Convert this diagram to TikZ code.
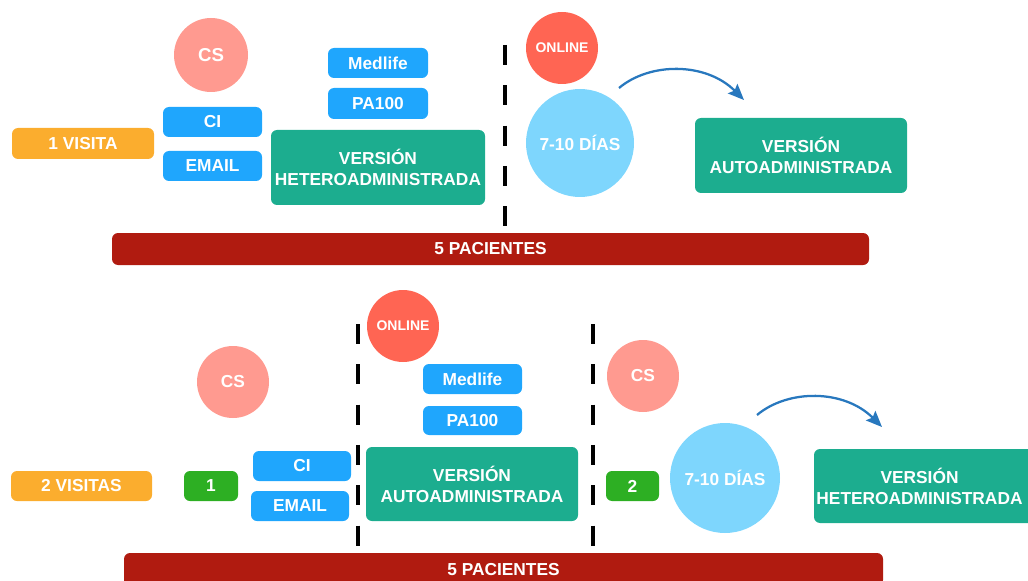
\documentclass[tikz,border=0pt]{standalone}
\usepackage{fontspec}
\setmainfont{Liberation Sans}
\usetikzlibrary{arrows.meta}
\newdimen\px \px=0.75pt
\definecolor{cOrange}{HTML}{FBAD2E}
\definecolor{cSalmon}{HTML}{FF9A90}
\definecolor{cBlue}{HTML}{1FA6FD}
\definecolor{cTeal}{HTML}{1CAD8F}
\definecolor{cOnline}{HTML}{FF6553}
\definecolor{cLight}{HTML}{7ED6FD}
\definecolor{cDark}{HTML}{B01B10}
\definecolor{cGreen}{HTML}{2DAF23}
\definecolor{cArrow}{HTML}{2878BE}
\begin{document}
\begin{tikzpicture}[x=0.75pt,y=-0.75pt,
  box/.style={rectangle, rounded corners=6\px, inner sep=0pt, text=white,
    font=\bfseries\fontsize{13}{15.7}\selectfont, align=center},
  circ/.style={circle, inner sep=0pt, text=white,
    font=\bfseries\fontsize{13}{15.7}\selectfont},
  onl/.style={circ, fill=cOnline, minimum size=72\px, font=\bfseries\fontsize{10.5}{12}\selectfont},
  sepline/.style={line width=3.3\px, dash pattern=on 20\px off 20.3\px},
  flow/.style={draw=cArrow, line width=1.7pt, -{Stealth[length=12pt,width=10pt,inset=2pt]}}]
\useasboundingbox (0,0) rectangle (1028,581);
\clip (0,0) rectangle (1028,581);

% ---------- top section ----------
\node[box, fill=cOrange, minimum width=142\px, minimum height=31\px] (visita1) at (83,143.5) {1 VISITA};
\node[circ, fill=cSalmon, minimum size=74\px, font=\bfseries\fontsize{14}{16}\selectfont] (cs1) at (211,55) {CS};
\node[box, fill=cBlue, minimum width=99\px, minimum height=30\px] (ci1) at (212.5,122) {CI};
\node[box, fill=cBlue, minimum width=99\px, minimum height=30\px] (email1) at (212.5,166) {EMAIL};
\node[box, fill=cBlue, minimum width=100\px, minimum height=30\px] (medlife1) at (378,63) {Medlife};
\node[box, fill=cBlue, minimum width=100\px, minimum height=31\px] (pa1) at (378,103.5) {PA100};
\node[box, fill=cTeal, minimum width=214\px, minimum height=75\px] (hetero1) at (378,167.5) {VERSIÓN\\HETEROADMINISTRADA};
\coordinate (d1a) at (505,45);
\coordinate (d1b) at (505,227);
\draw[sepline] (d1a) -- (d1b);
\node[onl] (online1) at (562,48) {ONLINE};
\node[circ, fill=cLight, minimum size=108\px] (dias1) at (580,143) {7-10 DÍAS};
\node[box, fill=cTeal, minimum width=212\px, minimum height=75\px] (auto1) at (801,155.5) {VERSIÓN\\AUTOADMINISTRADA};
\coordinate (a1s) at (619,88);
\coordinate (a1e) at (744,100);
\draw[flow] (a1s) .. controls (650,62) and (706,62) .. (a1e);
\node[box, fill=cDark, minimum width=757\px, minimum height=32\px] (pac1) at (490.5,249) {5 PACIENTES};

% ---------- bottom section ----------
\node[box, fill=cOrange, minimum width=141\px, minimum height=30\px] (visitas2) at (81.5,486) {2 VISITAS};
\node[box, fill=cGreen, minimum width=54\px, minimum height=30\px] (one) at (211,486) {1};
\node[circ, fill=cSalmon, minimum size=72\px] (cs2) at (233,382) {CS};
\node[box, fill=cBlue, minimum width=98\px, minimum height=30\px] (ci2) at (302,466) {CI};
\node[box, fill=cBlue, minimum width=98\px, minimum height=30\px] (email2) at (300,506) {EMAIL};
\coordinate (d2a) at (358,324);
\coordinate (d2b) at (358,547);
\draw[sepline] (d2a) -- (d2b);
\node[onl] (online2) at (403,326) {ONLINE};
\node[box, fill=cBlue, minimum width=99\px, minimum height=30\px] (medlife2) at (472.5,379) {Medlife};
\node[box, fill=cBlue, minimum width=99\px, minimum height=29\px] (pa2) at (472.5,420.5) {PA100};
\node[box, fill=cTeal, minimum width=212\px, minimum height=74\px] (auto2) at (472,484) {VERSIÓN\\AUTOADMINISTRADA};
\coordinate (d3a) at (593,324);
\coordinate (d3b) at (593,547);
\draw[sepline] (d3a) -- (d3b);
\node[circ, fill=cSalmon, minimum size=72\px] (cs3) at (643,376) {CS};
\node[box, fill=cGreen, minimum width=53\px, minimum height=30\px] (two) at (632.5,486) {2};
\node[circ, fill=cLight, minimum size=110\px] (dias2) at (725,478) {7-10 DÍAS};
\fill[cTeal, rounded corners=6\px] (814,449) rectangle (1045,523);
\node[box] (hetero2) at (919.5,486) {VERSIÓN\\HETEROADMINISTRADA};
\coordinate (a2s) at (757,415);
\coordinate (a2e) at (882,427);
\draw[flow] (a2s) .. controls (788,389) and (844,389) .. (a2e);
\node[box, fill=cDark, minimum width=759\px, minimum height=33\px] (pac2) at (503.5,569.5) {5 PACIENTES};
\end{tikzpicture}
\end{document}
